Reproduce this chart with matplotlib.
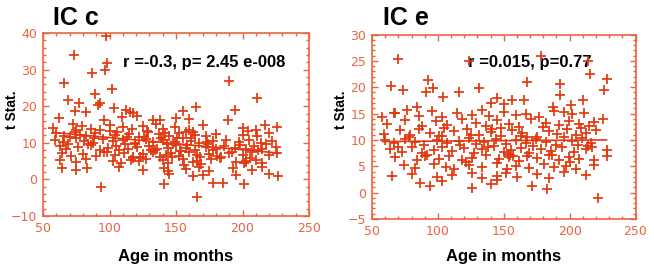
import matplotlib
matplotlib.use("Agg")
import matplotlib.pyplot as plt
from matplotlib.ticker import MultipleLocator

RED = "#e0380f"
AXIS_RED = "#ea6440"

# ---- IC c : age (months) vs t statistic ----
c_x = [
    # outliers / upper points
    97.1, 73.3, 98.4, 96.9, 87.1, 189.6, 66.0, 102.1, 88.8, 210.9, 68.8, 76.8,
    92.6, 91.4, 103.1, 165.3, 73.8, 82.6, 112.7, 115.7, 117.7, 155.2, 194.1,
    109.1, 120.9, 62.0, 95.9, 189.1, 150.2, 132.7, 137.7, 159.5,
    # band ~14
    57.5, 72.5, 75.0, 79.0, 86.0, 100.0, 110.0, 117.0, 125.0, 135.0, 140.0,
    149.0, 160.0, 170.0, 200.0, 210.0, 217.0, 226.0,
    # band ~12.4
    60.0, 66.0, 74.0, 77.5, 82.5, 89.0, 100.0, 104.0, 115.0, 122.5, 129.0,
    137.5, 145.0, 152.5, 157.5, 164.0, 172.5, 180.0, 200.0, 204.0, 211.0, 220.0,
    # band ~10.6
    59.0, 65.0, 75.0, 81.0, 87.5, 95.0, 102.5, 110.0, 119.0, 127.5, 132.5,
    140.0, 149.0, 155.0, 161.0, 167.5, 177.5, 187.5, 197.5, 205.0, 214.0, 222.5,
    # band ~8.7
    62.5, 67.5, 76.0, 86.0, 92.5, 99.0, 105.0, 114.0, 121.0, 130.0, 136.0,
    144.0, 150.0, 157.5, 164.0, 172.5, 180.0, 186.0, 194.0, 202.5, 209.0, 215.0, 225.0,
    # band ~6.9
    64.0, 71.0, 80.0, 90.0, 96.0, 104.0, 111.0, 117.5, 125.0, 132.5, 142.5,
    146.0, 152.5, 160.0, 166.0, 175.0, 181.0, 190.0, 200.0, 207.5, 220.0, 226.0,
    # band ~5.1
    62.5, 75.0, 82.5, 102.5, 109.0, 116.0, 122.5, 127.5, 140.0, 144.0, 155.0,
    162.5, 166.0, 176.0, 195.0, 202.5, 210.0, 215.0, 201.0, 203.0,
    # band ~2.8
    64.0, 75.0, 83.0, 107.5, 125.0, 141.0, 144.0, 157.5, 167.5, 175.0, 192.5,
    207.5, 215.0,
    # band ~1.2
    145.0, 162.5, 170.0, 195.0, 220.0, 227.0,
    # extra points in the dense middle
    70.0, 84.0, 93.0, 107.0, 113.0, 119.0, 123.0, 128.0, 134.0, 139.0, 143.0,
    147.0, 151.0, 154.0, 158.0, 163.0, 169.0, 173.0, 178.0, 184.0, 198.0, 212.0,
    69.0, 88.0, 98.0, 106.0, 112.0, 118.0, 126.0, 131.0, 138.0, 142.0, 148.0,
    153.0, 156.0, 161.0, 168.0, 174.0, 183.0, 192.0, 206.0, 218.0,
    # low outliers
    177.8, 185.3, 140.7, 201.1, 93.4, 166.0,
]
c_y = [
    39.3, 34.1, 31.8, 29.8, 29.2, 26.8, 26.3, 24.6, 23.4, 22.2, 21.6, 20.8,
    21.0, 20.4, 19.5, 19.7, 18.7, 18.5, 19.0, 18.5, 18.1, 18.6, 19.0,
    17.0, 17.2, 16.7, 16.3, 16.3, 16.7, 16.3, 16.1, 16.5,
    14.0, 15.1, 13.6, 14.6, 13.9, 15.0, 14.2, 13.8, 14.5, 15.2, 13.7,
    14.4, 13.5, 14.8, 14.1, 13.6, 14.9, 14.3,
    12.8, 11.9, 13.0, 12.2, 11.8, 12.6, 13.1, 12.0, 12.4, 11.7, 12.9,
    12.3, 11.8, 12.7, 13.0, 12.1, 11.9, 12.5, 12.2, 13.1, 11.8, 12.6,
    10.9, 10.2, 11.2, 10.5, 10.0, 11.0, 10.4, 10.8, 9.9, 11.1, 10.3,
    10.7, 10.1, 11.2, 10.6, 9.9, 10.5, 10.9, 10.2, 10.8, 10.0, 10.4,
    9.1, 8.3, 8.8, 9.3, 8.1, 8.6, 9.0, 8.4, 8.9, 9.2, 8.2,
    8.7, 9.4, 8.5, 8.0, 8.9, 8.3, 9.1, 8.6, 8.2, 9.0, 8.4, 8.8,
    7.2, 6.5, 7.0, 6.3, 7.5, 6.8, 7.3, 6.2, 6.9, 7.4, 6.6,
    7.1, 6.4, 7.6, 6.7, 7.0, 6.3, 7.2, 6.6, 7.5, 6.8, 7.1,
    5.3, 4.8, 5.6, 5.0, 4.6, 5.4, 4.9, 5.7, 5.2, 4.5, 5.5,
    4.8, 5.1, 5.6, 4.7, 5.0, 5.3, 4.6, 4.4, 4.7,
    3.2, 2.6, 3.0, 3.4, 2.5, 3.1, 2.2, 2.9, 3.3, 2.4, 3.0,
    2.7, 3.5,
    1.5, 0.9, 1.3, 1.1, 1.6, 0.8,
    11.5, 9.8, 13.4, 7.9, 11.6, 9.6, 6.1, 13.3, 8.0, 11.4, 9.7,
    6.0, 11.3, 7.8, 9.5, 12.9, 4.1, 10.1, 8.1, 6.1, 9.4, 7.9,
    9.6, 11.4, 7.6, 12.9, 9.7, 5.9, 11.5, 8.0, 6.1, 12.6, 9.6,
    7.8, 3.9, 11.3, 6.0, 9.7, 5.9, 7.6, 5.8, 9.6,
    -0.9, -0.9, -1.3, -1.2, -2.2, -4.9,
]
c_fit_x = [59, 227]
c_fit_y = [12.8, 7.2]

# ---- IC e ----
e_x = [
    # outliers / upper points
    69.5, 123.3, 178.5, 214.0, 215.8, 228.5, 226.4, 92.8, 96.1, 91.0, 64.4,
    73.8, 103.7, 115.7, 130.9, 167.6, 193.0, 193.0, 210.0, 144.8, 156.2, 165.0,
    140.2, 201.4, 187.2, 76.4, 84.0, 67.0, 57.4, 195.5, 225.4,
    # band ~15
    67.7, 85.5, 95.6, 103.2, 114.6, 126.1, 133.7, 138.7, 150.1, 159.0, 166.6,
    176.8, 188.2, 202.1, 211.0,
    # band ~13.3
    61.4, 75.4, 88.0, 98.2, 107.0, 118.4, 128.6, 136.2, 145.1, 153.9, 161.5,
    170.4, 181.8, 192.0, 199.6, 207.2, 214.8, 218.6,
    # band ~11.4
    58.9, 71.5, 79.2, 85.5, 94.4, 103.2, 112.1, 122.2, 131.1, 140.0, 147.6,
    156.5, 164.1, 175.5, 184.4, 190.7, 198.3, 204.6, 212.2, 219.8,
    # band ~9.7
    60.1, 66.5, 75.4, 83.0, 89.3, 99.4, 107.0, 115.9, 123.5, 128.6, 134.9,
    143.8, 151.4, 159.0, 166.6, 174.2, 181.8, 189.4, 202.1, 209.7, 216.0,
    # band ~8.1
    63.9, 72.8, 80.4, 88.0, 96.9, 103.2, 110.8, 119.7, 127.3, 133.7, 142.5,
    150.1, 155.2, 162.8, 169.1, 178.0, 185.6, 194.5, 203.4, 212.2, 217.3, 228.0,
    # band ~6.5
    67.7, 84.2, 90.6, 100.7, 108.3, 118.4, 126.1, 136.2, 146.3, 153.9, 161.5,
    167.8, 175.5, 184.4, 192.0, 199.6, 207.2, 218.6, 228.0,
    # band ~5.0
    74.1, 83.0, 96.9, 105.8, 112.1, 123.5, 133.7, 145.1, 152.7, 159.0, 169.1,
    180.5, 188.2, 197.0, 204.6, 218.6,
    # band ~3.3
    65.2, 80.4, 99.4, 110.8, 126.1, 133.7, 145.1, 151.4, 160.3, 175.5, 184.4,
    195.8, 212.2,
    # band ~1.5
    86.8, 94.4, 103.2, 126.1, 140.0, 145.1, 171.7, 183.1,
    # extra points in the dense middle
    78.0, 92.0, 105.0, 117.0, 125.0, 138.0, 148.0, 153.0, 157.0, 163.0,
    172.0, 180.0, 196.0, 206.0, 214.0, 70.0, 101.0, 121.0, 141.0, 150.0,
    155.0, 168.0, 187.0, 200.0, 209.0,
    # low outlier
    221.4,
]
e_y = [
    25.4, 25.0, 26.0, 25.0, 22.5, 21.6, 19.4, 21.3, 19.8, 19.0, 20.3,
    19.4, 18.2, 19.0, 19.8, 20.9, 20.6, 18.5, 17.6, 17.9, 17.6, 17.6,
    17.0, 16.7, 16.2, 15.6, 16.3, 15.1, 14.3, 15.3, 13.9,
    15.2, 14.6, 15.5, 14.4, 15.1, 14.8, 15.6, 14.5, 15.3, 14.7, 15.0,
    14.4, 15.4, 14.9, 15.2,
    13.0, 13.8, 12.6, 13.5, 12.9, 14.0, 13.2, 12.7, 13.7, 13.1, 12.5,
    13.9, 13.3, 12.8, 13.6, 13.0, 12.6, 13.4,
    11.2, 11.8, 10.9, 12.0, 11.4, 10.7, 11.6, 12.1, 11.0, 11.5, 10.8,
    11.9, 11.3, 10.6, 11.7, 11.1, 12.0, 10.9, 11.4, 11.8,
    9.9, 9.4, 10.2, 9.6, 9.1, 10.0, 9.5, 9.8, 10.3, 9.3, 9.7,
    10.1, 9.2, 9.9, 9.5, 10.2, 9.6, 9.0, 9.8, 10.3, 9.4,
    8.3, 7.8, 8.6, 7.6, 8.1, 8.7, 7.9, 8.4, 7.5, 8.2, 8.8,
    7.7, 8.0, 8.5, 7.6, 8.3, 7.9, 8.6, 7.8, 8.2, 8.7, 8.0,
    6.8, 6.2, 7.0, 6.4, 6.9, 6.1, 6.6, 7.1, 6.3, 6.7, 6.0,
    6.9, 6.5, 7.2, 6.2, 6.8, 6.4, 6.1, 7.0,
    5.2, 4.7, 5.5, 4.9, 4.5, 5.3, 4.8, 5.6, 4.4, 5.1, 4.6,
    5.4, 4.9, 5.0, 4.5, 5.3,
    3.1, 3.6, 2.9, 3.4, 3.8, 2.8, 3.2, 3.7, 3.0, 3.5, 2.7,
    3.9, 3.3,
    1.9, 1.2, 2.2, 0.9, 1.7, 2.4, 1.3, 0.7,
    10.6, 7.2, 12.2, 9.0, 10.9, 8.6, 12.3, 7.3, 7.0, 10.8,
    8.9, 12.4, 10.6, 9.0, 8.8, 8.7, 10.7, 5.9, 12.0, 16.9,
    7.1, 10.6, 7.2, 5.8, 12.2,
    -1.1,
]
e_fit_x = [58, 228]
e_fit_y = [9.7, 10.0]


def setup_axes(ax, ylim, ymajor, yminor):
    ax.set_xlim(50, 250)
    ax.set_ylim(*ylim)
    ax.xaxis.set_major_locator(MultipleLocator(50))
    ax.xaxis.set_minor_locator(MultipleLocator(10))
    ax.yaxis.set_major_locator(MultipleLocator(ymajor))
    ax.yaxis.set_minor_locator(MultipleLocator(yminor))
    for s in ax.spines.values():
        s.set_color(AXIS_RED)
        s.set_linewidth(1.2)
    ax.tick_params(which="both", direction="in", top=True, right=True,
                   colors=AXIS_RED, width=1.0)
    ax.tick_params(which="major", length=4, labelsize=9, pad=4,
                   labelcolor=AXIS_RED)
    ax.tick_params(which="minor", length=2.5)


def panel(fig, rect, xs, ys, fx, fy, ylim, ymajor, yminor, note, note_pos):
    ax = fig.add_axes(rect)
    setup_axes(ax, ylim, ymajor, yminor)
    ax.text(note_pos[0], note_pos[1], note, transform=ax.transAxes,
            fontsize=12, fontweight="bold", family="Liberation Sans",
            va="center", ha="left", zorder=1)
    ax.plot(xs, ys, "+", color=RED, markersize=6.5, markeredgewidth=1.25, zorder=3)
    ax.plot(fx, fy, "-", color=RED, linewidth=1.2, zorder=2)
    return ax


def main():
    fig = plt.figure(figsize=(6.54, 2.70), dpi=100)
    fig.patch.set_facecolor("white")

    panel(fig, [43 / 654, 1 - 216 / 270, 266 / 654, 183 / 270],
          c_x, c_y, c_fit_x, c_fit_y, (-10, 40), 10, 2,
          "r =-0.3, p= 2.45 e-008", (0.30, 0.84))
    panel(fig, [372 / 654, 1 - 219 / 270, 263.5 / 654, 184.5 / 270],
          e_x, e_y, e_fit_x, e_fit_y, (-5, 30), 5, 1,
          "r =0.015, p=0.77", (0.365, 0.85))

    font = dict(family="Liberation Sans", fontweight="bold", color="black")
    fig.text(53 / 654, 1 - 25 / 270, "IC c", fontsize=18, va="baseline", **font)
    fig.text(383 / 654, 1 - 25 / 270, "IC e", fontsize=18, va="baseline", **font)
    for xc in (12 / 654, 341 / 654):
        fig.text(xc, 1 - 110 / 270, "t Stat.", fontsize=10, rotation=90,
                 ha="center", va="center", **font)
    for xc in (176 / 654, 504 / 654):
        fig.text(xc, 1 - 257 / 270, "Age in months", fontsize=12,
                 ha="center", va="center", **font)

    fig.savefig("out.png", dpi=100)


if __name__ == "__main__":
    main()
